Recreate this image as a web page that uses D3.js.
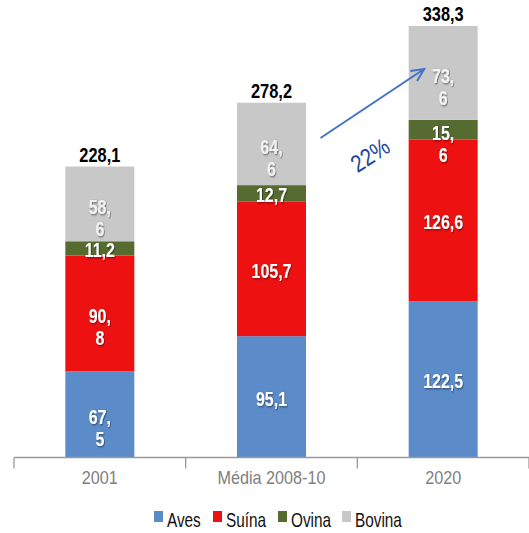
<!DOCTYPE html>
<html><head><meta charset="utf-8">
<script src="https://cdn.jsdelivr.net/npm/d3@7"></script>
<style>
html,body{margin:0;padding:0;background:#fff;}
svg{display:block;}
</style></head>
<body>
<svg id="chart" width="529" height="533"></svg>
<script>
const categories = ["2001", "Média 2008-10", "2020"];
const seriesNames = ["Aves", "Suína", "Ovina", "Bovina"];
const aves   = [67.5, 95.1, 122.5];
const suina  = [90.8, 105.7, 126.6];
const ovina  = [11.2, 12.7, 15.6];
const bovina = [58.6, 64.6, 73.6];
const totals = [228.1, 278.2, 338.3];
// whether each data label is wrapped after the comma (as in the reference)
const wrapAves   = [true, false, false];
const wrapSuina  = [true, false, false];
const wrapOvina  = [false, false, true];
const wrapBovina = [true, true, true];
const colors = ["#5b8bc9", "#ee1111", "#566b30", "#c8c8c8"];
const labelColors = ["#ffffff", "#ffffff", "#ffffff", "#f2f2f2"];
const growthLabel = "22%";

const values = [aves, suina, ovina, bovina];
const wraps = [wrapAves, wrapSuina, wrapOvina, wrapBovina];

const svg = d3.select("#chart");
const FONT = "'Liberation Sans',Arial,sans-serif";

const x = d3.scaleBand().domain(categories).range([14, 529]).paddingInner(0).paddingOuter(0);
const y = d3.scaleLinear().domain([0, 350]).range([457.5, 11]);
const barW = 69;

// condensed text helper
function ctext(px, py, str, opts) {
  const g = svg.append("g").attr("transform", `translate(${px},${py}) ${opts.rot ? "rotate("+opts.rot+")" : ""} scale(${opts.sx||0.8},1)`);
  const t = g.append("text").attr("text-anchor", opts.anchor || "middle").attr("dy","0.35em")
    .attr("font-family", FONT).attr("font-size", opts.size).attr("font-weight", opts.weight || "normal")
    .attr("fill", opts.fill || "#000").text(str);
  if (opts.filter) t.attr("filter", opts.filter);
  return t;
}

const defs = svg.append("defs");
const f = defs.append("filter").attr("id","sh").attr("x","-20%").attr("y","-20%").attr("width","150%").attr("height","150%");
f.append("feDropShadow").attr("dx",1).attr("dy",1).attr("stdDeviation",0.8).attr("flood-color","#000").attr("flood-opacity",0.5);

const stackData = categories.map((c,i)=>{ const o={cat:c}; seriesNames.forEach((s,k)=>o[s]=values[k][i]); return o; });
const stack = d3.stack().keys(seriesNames)(stackData);

stack.forEach((layer,k)=>{
  const g = svg.append("g");
  layer.forEach((d,i)=>{
    const cx = x(categories[i]) + x.bandwidth()/2;
    g.append("rect").attr("x", cx-barW/2).attr("width", barW)
      .attr("y", y(d[1])).attr("height", y(d[0])-y(d[1])).attr("fill", colors[k]);
  });
});

// data labels
stack.forEach((layer,k)=>{
  layer.forEach((d,i)=>{
    const cx = x(categories[i]) + x.bandwidth()/2;
    const mid = (y(d[0])+y(d[1]))/2;
    const txt = d3.format(".1f")(values[k][i]).replace(".", ",");
    const o = {size:20, weight:"bold", fill:labelColors[k], filter:"url(#sh)", sx:0.8};
    if (wraps[k][i]) {
      const parts = txt.split(",");
      ctext(cx, mid+3, parts[0]+",", o);
      ctext(cx, mid+25, parts[1], o);
    } else {
      ctext(cx, mid+2, txt, o);
    }
  });
});

// totals
totals.forEach((v,i)=>{
  const cx = x(categories[i]) + x.bandwidth()/2;
  ctext(cx, y(v)-12, d3.format(".1f")(v).replace(".", ","), {size:20, weight:"bold", sx:0.82});
});

// axis
const ax = svg.append("g").attr("transform","translate(0,457.5)")
  .call(d3.axisBottom(x).tickSize(0).tickFormat(""));
ax.select(".domain").attr("stroke","#9a9a9a").attr("stroke-width",1.3).attr("d","M14,0H529");
const tickPos = categories.map(c=>x(c)).concat([x.range()[1]]);
ax.selectAll(".sep").data(tickPos).enter().append("line").attr("class","sep")
  .attr("x1",d=>d).attr("x2",d=>d).attr("y1",0).attr("y2",11).attr("stroke","#9a9a9a").attr("stroke-width",1.3);
categories.forEach(c=>{
  ctext(x(c)+x.bandwidth()/2, 478, c, {size:18, sx:0.9, fill:"#808080"});
});

// growth arrow
const ax0 = x(categories[1]) + x.bandwidth()/2 + 49, ay0 = 138;
const ax1 = x(categories[2]) + x.bandwidth()/2 - 19, ay1 = 69;
svg.append("line").attr("x1",ax0).attr("y1",ay0).attr("x2",ax1).attr("y2",ay1)
  .attr("stroke","#4472c4").attr("stroke-width",2);
const ang = Math.atan2(ay1-ay0, ax1-ax0);
const hl = 14, ha = 0.45;
svg.append("path").attr("d", `M${ax1-hl*Math.cos(ang-ha)},${ay1-hl*Math.sin(ang-ha)}L${ax1},${ay1}L${ax1-hl*Math.cos(ang+ha)},${ay1-hl*Math.sin(ang+ha)}`)
  .attr("fill","none").attr("stroke","#4472c4").attr("stroke-width",2);
ctext(370, 155, growthLabel, {size:24, sx:0.85, rot:-33, fill:"#24469a"});

// legend
const legX = [154, 213, 278, 342];
seriesNames.forEach((s,k)=>{
  svg.append("rect").attr("x",legX[k]).attr("y",511).attr("width",9).attr("height",11).attr("fill",colors[k]);
  ctext(legX[k]+13, 520, s, {size:21, sx:0.73, anchor:"start", fill:"#111"});
});
</script>
</body></html>
